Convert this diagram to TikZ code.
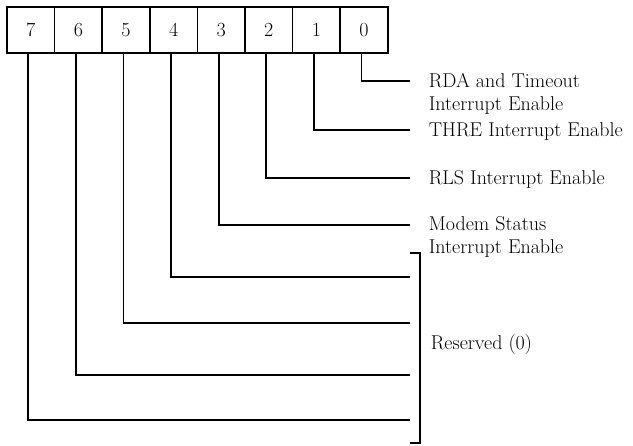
\documentclass[tikz,border=0pt]{standalone}
\usetikzlibrary{positioning}

\begin{document}
\begin{tikzpicture}[x=1pt, y=-1pt, line width=1.7pt,
    every node/.style={font=\fontsize{20}{23}\selectfont},
    bitbox/.style={draw, minimum width=47.6pt, minimum height=46pt, inner sep=0pt, outer sep=0pt},
    lbl/.style={inner sep=0pt, align=left}]
    \useasboundingbox (0,0) rectangle (633,446);

    % Register bits 7..0
    \node[bitbox] (b7) at (30.8,30) {7};
    \node[bitbox, right=0pt of b7] (b6) {6};
    \node[bitbox, right=0pt of b6] (b5) {5};
    \node[bitbox, right=0pt of b5] (b4) {4};
    \node[bitbox, right=0pt of b4] (b3) {3};
    \node[bitbox, right=0pt of b3] (b2) {2};
    \node[bitbox, right=0pt of b2] (b1) {1};
    \node[bitbox, right=0pt of b1] (b0) {0};

    % Leader lines from each bit
    \foreach \b/\y in {0/81, 1/130, 2/178, 3/225, 4/277, 5/323, 6/375, 7/420} {
        \coordinate (e\b) at (410,\y);
        \draw ([xshift=-2.5pt]b\b.south) |- (e\b);
    }

    % Bit descriptions
    \node[lbl, anchor=west] (l0) at (428,94.3) {RDA and Timeout\\Interrupt Enable};
    \node[lbl, anchor=base west] (l1) at (428,136.8) {THRE Interrupt Enable};
    \node[lbl, anchor=base west] (l2) at (428,184.8) {RLS Interrupt Enable};
    \node[lbl, anchor=west] (l3) at (428,237.3) {Modem Status\\Interrupt Enable};

    % Reserved bits bracket
    \coordinate (rt) at (410,253);
    \coordinate (rb) at (410,443);
    \draw (rt) -- ++(10,0) |- (rb);
    \node[lbl, anchor=base west] (lr) at (430,349.8) {Reserved (0)};
\end{tikzpicture}
\end{document}
